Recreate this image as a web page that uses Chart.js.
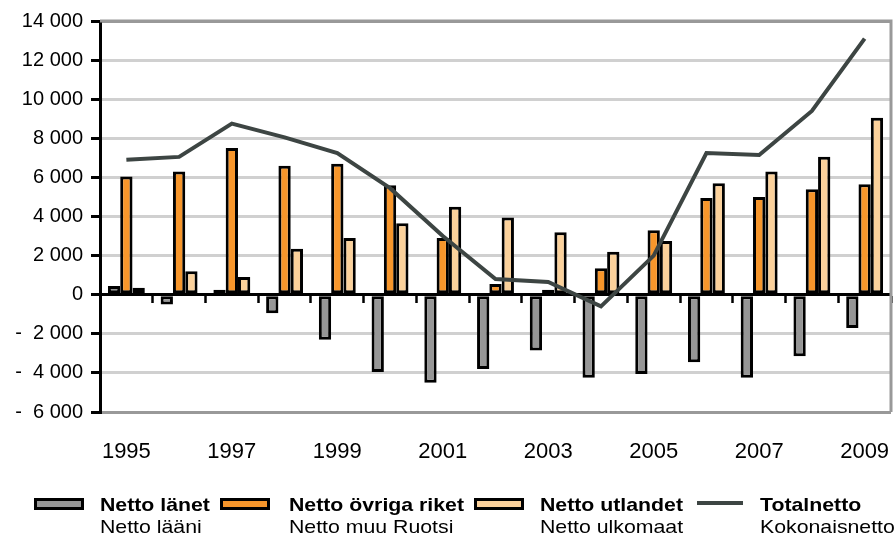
<!DOCTYPE html>
<html lang="sv">
<head>
  <meta charset="UTF-8" />
  <title>Nettoflyttning 1995-2009</title>
  <script src="https://cdn.jsdelivr.net/npm/chart.js"></script>
  <style>
    body { margin: 0; background: white; overflow: hidden; }
    #wrap { position: relative; width: 896px; height: 538px; overflow: hidden; }
    #chart { position: absolute; left: 0; top: 0; }
    .key { position: absolute; top: 498px; width: 44px; height: 6px; border: 3px solid #000; }
    .keyline { position: absolute; top: 501px; width: 46px; height: 4px; background: #3d4543; }
    .txt {
      position: absolute; font-family: "Liberation Sans", Arial, sans-serif; font-size: 18.5px;
      line-height: 1; white-space: nowrap; transform: scaleX(1.15); transform-origin: left top; color: #000;
    }
    .txt b { display: block; }
    .txt span { display: block; margin-top: 3.5px; }
  </style>
</head>
<body>
<div id="wrap">
  <canvas id="chart" width="896" height="538"></canvas>

  <div class="key" style="left:34px; background:#969696"></div>
  <div class="txt" style="left:100px; top:495.5px"><b>Netto länet</b><span>Netto lääni</span></div>

  <div class="key" style="left:220px; background:#f7962b"></div>
  <div class="txt" style="left:289px; top:495.5px"><b>Netto övriga riket</b><span>Netto muu Ruotsi</span></div>

  <div class="key" style="left:474px; background:#fbd19b"></div>
  <div class="txt" style="left:540px; top:495.5px"><b>Netto utlandet</b><span>Netto ulkomaat</span></div>

  <div class="keyline" style="left:697px"></div>
  <div class="txt" style="left:760px; top:495.5px"><b>Totalnetto</b><span>Kokonaisnetto</span></div>
</div>

<script>
  const years = ["1995","1996","1997","1998","1999","2000","2001","2002","2003","2004","2005","2006","2007","2008","2009"];
  const nettoLanet    = [450, -500, 250, -950, -2300, -3950, -4500, -3800, -2850, -4250, -4050, -3450, -4250, -3150, -1700];
  const nettoOvriga   = [6050, 6300, 7500, 6600, 6700, 5600, 2900, 550, 250, 1350, 3300, 4950, 5000, 5400, 5650];
  const nettoUtlandet = [350, 1200, 900, 2350, 2900, 3650, 4500, 3950, 3200, 2200, 2750, 5700, 6300, 7050, 9050];
  const totalnetto    = [6900, 7050, 8750, 8050, 7250, 5450, 3000, 800, 650, -600, 2000, 7250, 7150, 9400, 13100];

  const yTicks = [14000, 12000, 10000, 8000, 6000, 4000, 2000, 0, -2000, -4000, -6000];
  const yTickLabels = ["14 000","12 000","10 000","8 000","6 000","4 000","2 000","0","-  2 000","-  4 000","-  6 000"];

  // gray frame on top and right of the plot
  const frame = {
    id: "frame",
    beforeDatasetsDraw(chart) {
      const { ctx, chartArea: a } = chart;
      ctx.save();
      ctx.strokeStyle = "#999";
      ctx.lineWidth = 3;
      ctx.beginPath();
      ctx.moveTo(a.left, a.top);
      ctx.lineTo(a.right, a.top);
      ctx.lineTo(a.right, a.bottom);
      ctx.stroke();
      ctx.restore();
    }
  };

  const barStyle = { borderColor: "#000", borderWidth: 3, borderSkipped: false, order: 1,
                     categoryPercentage: 0.7, barPercentage: 1.0 };

  new Chart(document.getElementById("chart"), {
    data: {
      labels: years,
      datasets: [
        { type: "bar", label: "Netto länet", data: nettoLanet, backgroundColor: "#969696", ...barStyle },
        { type: "bar", label: "Netto övriga riket", data: nettoOvriga, backgroundColor: "#f7962b", ...barStyle },
        { type: "bar", label: "Netto utlandet", data: nettoUtlandet, backgroundColor: "#fbd19b", ...barStyle },
        { type: "line", label: "Totalnetto", data: totalnetto, borderColor: "#3d4543", borderWidth: 4,
          pointRadius: 0, tension: 0, order: 0 }
      ]
    },
    options: {
      responsive: false,
      animation: false,
      layout: { padding: { left: 0, right: 5, top: 21, bottom: 66 } },
      plugins: { legend: { display: false }, tooltip: { enabled: false } },
      scales: {
        x: {
          type: "category",
          position: { y: 0 },
          offset: true,
          border: { color: "#000", width: 3 },
          grid: { offset: true, drawOnChartArea: false, drawTicks: true, tickLength: 7, tickColor: "#000", tickWidth: 2.5 },
          ticks: { display: false }
        },
        x2: {
          type: "category",
          position: "bottom",
          offset: true,
          border: { display: false },
          grid: { display: false },
          ticks: {
            autoSkip: false, maxRotation: 0, padding: 0, color: "#000",
            font: { family: "Liberation Sans", size: 22, lineHeight: 2.9 },
            callback: (v, i) => (i % 2 === 0 ? years[i] : "")
          },
          afterFit: s => { s.height = 60; }
        },
        y: {
          min: -6000, max: 14000,
          border: { color: "#000", width: 3 },
          grid: {
            color: c => (c.tick.value === 14000 || c.tick.value === -6000) ? "#999" : (c.tick.value === 0 ? "#000" : "#d0d0d0"),
            lineWidth: 3,
            tickColor: "#000", tickWidth: 3, tickLength: 9
          },
          afterBuildTicks: s => { s.ticks = yTicks.map(v => ({ value: v })); },
          ticks: {
            padding: 8, color: "#000",
            font: { family: "Liberation Sans", size: 20 },
            callback: v => yTickLabels[yTicks.indexOf(v)]
          },
          afterFit: s => { s.width = 100; }
        }
      }
    },
    plugins: [frame]
  });
</script>
</body>
</html>
